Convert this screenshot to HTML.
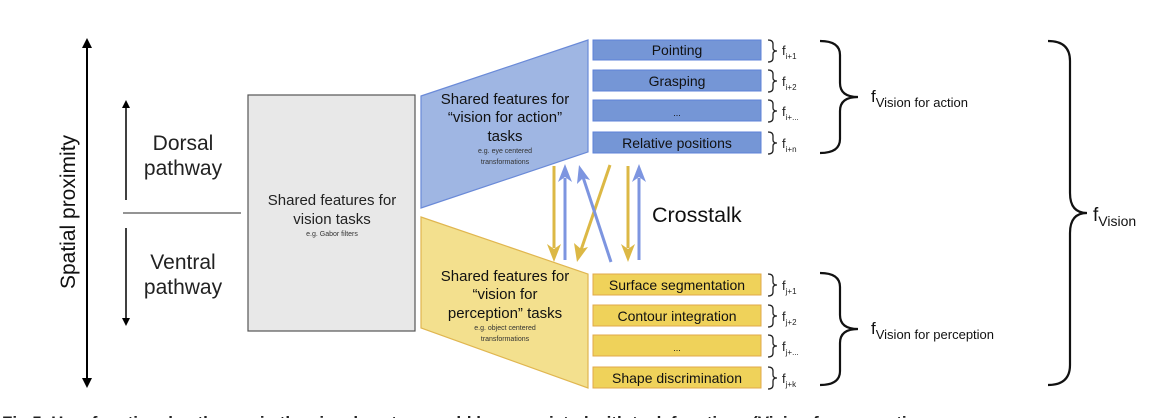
<!DOCTYPE html>
<html><head><meta charset="utf-8"><style>
html,body{margin:0;padding:0;background:#fff;}
svg{display:block;font-family:"Liberation Sans",sans-serif;}
</style></head><body>
<svg width="1168" height="418" viewBox="0 0 1168 418" xmlns="http://www.w3.org/2000/svg">
<!-- spatial proximity arrow -->
<line x1="87" y1="46" x2="87" y2="380" stroke="#000" stroke-width="2"/>
<path d="M82,48 L87,38 L92,48 Z M82,378 L87,388 L92,378 Z" fill="#000"/>
<text transform="translate(75,212) rotate(-90)" text-anchor="middle" font-size="21" fill="#111">Spatial proximity</text>
<!-- pathway arrows -->
<line x1="126" y1="106" x2="126" y2="200" stroke="#000" stroke-width="1.5"/>
<path d="M122,108 L126,100 L130,108 Z" fill="#000"/>
<line x1="126" y1="228" x2="126" y2="320" stroke="#000" stroke-width="1.5"/>
<path d="M122,318 L126,326 L130,318 Z" fill="#000"/>
<line x1="123" y1="213" x2="241" y2="213" stroke="#555" stroke-width="1.2"/>
<text x="183" y="150" text-anchor="middle" font-size="21" fill="#222">Dorsal</text>
<text x="183" y="175" text-anchor="middle" font-size="21" fill="#222">pathway</text>
<text x="183" y="269" text-anchor="middle" font-size="21" fill="#222">Ventral</text>
<text x="183" y="294" text-anchor="middle" font-size="21" fill="#222">pathway</text>
<!-- gray box -->
<rect x="248" y="95" width="167" height="236" fill="#e8e8e8" stroke="#555" stroke-width="1.2"/>
<text x="332" y="205" text-anchor="middle" font-size="15" fill="#222">Shared features for</text>
<text x="332" y="224" text-anchor="middle" font-size="15" fill="#222">vision tasks</text>
<text x="332" y="236" text-anchor="middle" font-size="7" fill="#333">e.g. Gabor filters</text>
<!-- blue trapezoid -->
<path d="M421,96 L588,40 L588,152 L421,208 Z" fill="#9fb6e3" stroke="#6a8ad8" stroke-width="1.2"/>
<text x="505" y="104" text-anchor="middle" font-size="15" fill="#111">Shared features for</text>
<text x="505" y="122" text-anchor="middle" font-size="15" fill="#111">“vision for action”</text>
<text x="505" y="141" text-anchor="middle" font-size="15" fill="#111">tasks</text>
<text x="505" y="153" text-anchor="middle" font-size="7" fill="#333">e.g. eye centered</text>
<text x="505" y="164" text-anchor="middle" font-size="7" fill="#333">transformations</text>
<!-- yellow trapezoid -->
<path d="M421,217 L588,274 L588,388 L421,328 Z" fill="#f3e08e" stroke="#e0b650" stroke-width="1.2"/>
<text x="505" y="281" text-anchor="middle" font-size="15" fill="#111">Shared features for</text>
<text x="505" y="299" text-anchor="middle" font-size="15" fill="#111">“vision for</text>
<text x="505" y="318" text-anchor="middle" font-size="15" fill="#111">perception” tasks</text>
<text x="505" y="330" text-anchor="middle" font-size="7" fill="#333">e.g. object centered</text>
<text x="505" y="341" text-anchor="middle" font-size="7" fill="#333">transformations</text>
<!-- blue boxes -->
<g fill="#7596d6" stroke="#5d82d8" stroke-width="1">
<rect x="593" y="40" width="168" height="20"/>
<rect x="593" y="70" width="168" height="21"/>
<rect x="593" y="100" width="168" height="21"/>
<rect x="593" y="132" width="168" height="21"/>
</g>
<g font-size="14" fill="#111" text-anchor="middle">
<text x="677" y="55">Pointing</text>
<text x="677" y="86">Grasping</text>
<text x="677" y="116" font-size="9">...</text>
<text x="677" y="148">Relative positions</text>
</g>
<!-- yellow boxes -->
<g fill="#efd25a" stroke="#e0a84a" stroke-width="1">
<rect x="593" y="274" width="168" height="21"/>
<rect x="593" y="305" width="168" height="21"/>
<rect x="593" y="335" width="168" height="21"/>
<rect x="593" y="367" width="168" height="21"/>
</g>
<g font-size="14" fill="#111" text-anchor="middle">
<text x="677" y="290">Surface segmentation</text>
<text x="677" y="321">Contour integration</text>
<text x="677" y="351" font-size="9">...</text>
<text x="677" y="383">Shape discrimination</text>
</g>
<!-- small braces -->
<g fill="none" stroke="#222" stroke-width="1.3">
<path d="M768,40 q5,0 5,4 v4 q0,3 4,3 q-4,0 -4,3 v4 q0,4 -5,4"/>
<path d="M768,70 q5,0 5,4 v4 q0,3 4,3 q-4,0 -4,3 v4 q0,4 -5,4"/>
<path d="M768,100 q5,0 5,4 v4 q0,3 4,3 q-4,0 -4,3 v4 q0,4 -5,4"/>
<path d="M768,132 q5,0 5,4 v4 q0,3 4,3 q-4,0 -4,3 v4 q0,4 -5,4"/>
<path d="M768,274 q5,0 5,4 v4 q0,3 4,3 q-4,0 -4,3 v4 q0,4 -5,4"/>
<path d="M768,305 q5,0 5,4 v4 q0,3 4,3 q-4,0 -4,3 v4 q0,4 -5,4"/>
<path d="M768,335 q5,0 5,4 v4 q0,3 4,3 q-4,0 -4,3 v4 q0,4 -5,4"/>
<path d="M768,367 q5,0 5,4 v4 q0,3 4,3 q-4,0 -4,3 v4 q0,4 -5,4"/>
</g>
<g font-size="13" fill="#222">
<text x="782" y="55">f<tspan font-size="8" dy="4">i+1</tspan></text>
<text x="782" y="86">f<tspan font-size="8" dy="4">i+2</tspan></text>
<text x="782" y="116">f<tspan font-size="8" dy="4">i+...</tspan></text>
<text x="782" y="148">f<tspan font-size="8" dy="4">i+n</tspan></text>
<text x="782" y="290">f<tspan font-size="8" dy="4">j+1</tspan></text>
<text x="782" y="321">f<tspan font-size="8" dy="4">j+2</tspan></text>
<text x="782" y="351">f<tspan font-size="8" dy="4">j+...</tspan></text>
<text x="782" y="383">f<tspan font-size="8" dy="4">j+k</tspan></text>
</g>
<!-- medium braces -->
<g fill="none" stroke="#111" stroke-width="2.2">
<path d="M820,41 q20,0 20,14 v28 q0,14 18,14 q-18,0 -18,14 v28 q0,14 -20,14"/>
<path d="M820,273 q20,0 20,14 v28 q0,14 18,14 q-18,0 -18,14 v28 q0,14 -20,14"/>
<path d="M1048,41 q22,0 22,20 v132 q0,20 17,20 q-17,0 -17,20 v132 q0,20 -22,20"/>
</g>
<text x="871" y="102" font-size="17" fill="#111">f<tspan font-size="13" dy="5">Vision for action</tspan></text>
<text x="871" y="334" font-size="17" fill="#111">f<tspan font-size="13" dy="5">Vision for perception</tspan></text>
<text x="1093" y="221" font-size="19" fill="#111">f<tspan font-size="14" dy="5">Vision</tspan></text>
<!-- crosstalk arrows -->
<g stroke-width="3" fill="none">
<line x1="554" y1="166" x2="554" y2="248" stroke="#dcb845"/>
<line x1="565" y1="260" x2="565" y2="178" stroke="#7d95e0"/>
<line x1="610" y1="165" x2="581" y2="250" stroke="#dcb845"/>
<line x1="611" y1="262" x2="583" y2="177" stroke="#7d95e0"/>
<line x1="628" y1="166" x2="628" y2="248" stroke="#dcb845"/>
<line x1="639" y1="260" x2="639" y2="178" stroke="#7d95e0"/>
</g>
<g>
<path d="M547,244 L554,262 L561,244 L554,249 Z" fill="#dcb845"/>
<path d="M558,182 L565,164 L572,182 L565,177 Z" fill="#7d95e0"/>
<path d="M574,243 L577,262 L588,247 L581,249 Z" fill="#dcb845"/>
<path d="M577,184 L579,165 L590,180 L583,178 Z" fill="#7d95e0"/>
<path d="M621,244 L628,262 L635,244 L628,249 Z" fill="#dcb845"/>
<path d="M632,182 L639,164 L646,182 L639,177 Z" fill="#7d95e0"/>
</g>
<text x="652" y="222" font-size="21.5" fill="#111">Crosstalk</text>
<!-- caption (cut off) -->
<text x="2" y="428" font-size="17" font-weight="bold" fill="#222">Fig 5.  How functional pathways in the visual system could be associated with task functions (Vision for perception</text>
</svg>
</body></html>
